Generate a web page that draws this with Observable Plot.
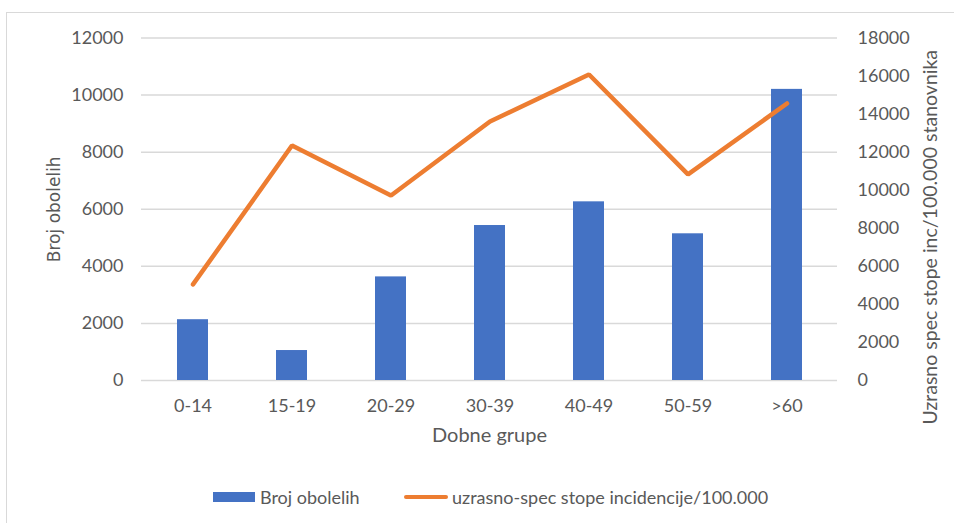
<!DOCTYPE html>
<html>
<head>
<meta charset="utf-8">
<script src="https://cdn.jsdelivr.net/npm/d3@7"></script>
<script src="https://cdn.jsdelivr.net/npm/@observablehq/plot@0.6"></script>
<style>
  html, body { margin: 0; padding: 0; background: #fff; }
  body { width: 954px; height: 523px; position: relative; overflow: hidden; font-family: Lato, "Liberation Sans", sans-serif; }
  #frame { position: absolute; left: 6px; top: 12px; width: 1000px; height: 600px; border: 1.5px solid #d9d9d9; box-sizing: border-box; }
  #chart { position: absolute; left: 0; top: 0; }
  #legend { position: absolute; left: 0; top: 485px; width: 954px; height: 24px; font-size: 18px; color: #595959; }
  .sw { position: absolute; }
  .lt { position: absolute; top: 0; line-height: 24px; white-space: nowrap; }
</style>
</head>
<body>
<div id="frame"></div>
<div id="chart"></div>
<div id="legend">
  <div class="sw" style="left:213px;top:7px;width:42px;height:10px;background:#4472c4"></div>
  <div class="lt" style="left:260px">Broj obolelih</div>
  <div class="sw" style="left:404px;top:10px;width:44px;height:4px;border-radius:2px;background:#ed7d31"></div>
  <div class="lt" style="left:452px">uzrasno-spec stope incidencije/100.000</div>
</div>
<script>
const categories = ["0-14", "15-19", "20-29", "30-39", "40-49", "50-59", ">60"];
const cases = [2130, 1050, 3630, 5430, 6260, 5140, 10200];
const rates = [5050, 12350, 9720, 13610, 16080, 10830, 14560];
const leftTicks = [0, 2000, 4000, 6000, 8000, 10000, 12000];
const rightTicks = [0, 2000, 4000, 6000, 8000, 10000, 12000, 14000, 16000, 18000];
const leftMax = 12000, rightMax = 18000;
const k = leftMax / rightMax;

const bars = categories.map((c, i) => ({cat: c, value: cases[i]}));
const line = categories.map((c, i) => ({cat: c, rate: rates[i]}));

const plot = Plot.plot({
  width: 954,
  height: 470,
  marginLeft: 141,
  marginRight: 117,
  marginTop: 37.5,
  marginBottom: 90,
  style: {fontFamily: "Lato, 'Liberation Sans', sans-serif", fontSize: "18px", color: "#595959", background: "transparent"},
  x: {domain: categories, paddingInner: 0.69, paddingOuter: 0.345, label: null},
  y: {domain: [0, leftMax], label: null},
  marks: [
    Plot.gridY(leftTicks, {stroke: "#d9d9d9", strokeOpacity: 1, strokeWidth: 1.5}),
    Plot.axisY(leftTicks, {anchor: "left", tickSize: 0, tickPadding: 18, label: null, tickFormat: d => String(d), fill: "#595959"}),
    Plot.axisY(rightTicks.map(t => t * k), {anchor: "right", tickSize: 0, tickPadding: 20, label: null, tickFormat: d => String(Math.round(d / k)), fill: "#595959"}),
    Plot.axisX({tickSize: 0, tickPadding: 19, label: null, fill: "#595959"}),
    Plot.barY(bars, {x: "cat", y: "value", fill: "#4472c4"}),
    Plot.line(line, {x: "cat", y: d => d.rate * k, stroke: "#ed7d31", strokeWidth: 4.5, strokeLinecap: "round", strokeLinejoin: "miter"}),
    Plot.text(["Dobne grupe"], {frameAnchor: "bottom", dy: 61, fontSize: 20, fill: "#595959"}),
    Plot.text(["Broj obolelih"], {frameAnchor: "left", textAnchor: "middle", rotate: -90, dx: -87, fontSize: 17, fontFamily: "DejaVu Sans", fill: "#595959"}),
    Plot.text(["Uzrasno spec stope inc/100.000 stanovnika"], {frameAnchor: "right", textAnchor: "middle", rotate: -90, dx: 93, dy: 28, fontSize: 19.5, fill: "#595959"})
  ]
});
document.getElementById("chart").appendChild(plot);
</script>
</body>
</html>
